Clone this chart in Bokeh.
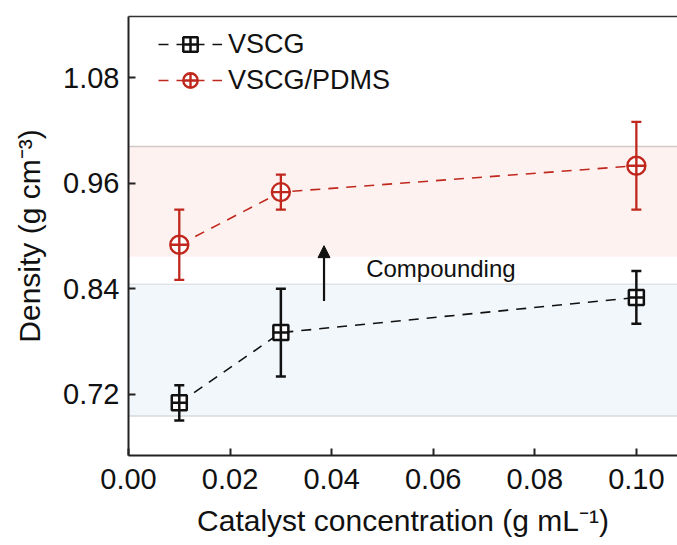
from bokeh.plotting import figure
from bokeh.models import (Range1d, FixedTicker, PrintfTickFormatter, Whisker, TeeHead,
                          ColumnDataSource, BoxAnnotation, Span, LinearAxis, Label,
                          Arrow, NormalHead, Legend, LegendItem)
from bokeh.embed import file_html
from bokeh.resources import INLINE

# ---- data ----
conc = [0.01, 0.03, 0.10]
vscg = [0.71, 0.79, 0.83]
vscg_err = [0.02, 0.05, 0.03]
pdms = [0.89, 0.95, 0.98]
pdms_err = [0.04, 0.02, 0.05]
x_ticks = [0.00, 0.02, 0.04, 0.06, 0.08, 0.10]
y_ticks = [0.72, 0.84, 0.96, 1.08]
pink_band = (0.8765, 1.002)
blue_band = (0.695, 0.845)

RED = "#c0271d"
BLACK = "#111111"
FONT = "Liberation Sans"

p = figure(width=677, height=545, output_backend="svg", toolbar_location=None,
           x_range=Range1d(0, 0.1081), y_range=Range1d(0.65, 1.15),
           min_border_left=128, min_border_right=0, min_border_top=16, min_border_bottom=90)
p.outline_line_color = None
p.grid.visible = False
p.background_fill_color = "white"

# bands
p.add_layout(BoxAnnotation(bottom=pink_band[0], top=pink_band[1], fill_color="#fef2f0",
                           fill_alpha=1, line_color=None, level="underlay"))
p.add_layout(BoxAnnotation(bottom=blue_band[0], top=blue_band[1], fill_color="#f2f7fb",
                           fill_alpha=1, line_color=None, level="underlay"))
for yv, c in [(pink_band[1], "#cfc9c8"), (blue_band[1], "#dfe3e6"), (blue_band[0], "#d6d9dc")]:
    p.add_layout(Span(location=yv, dimension="width", line_color=c, line_width=1.5, level="underlay"))

# sources
src_v = ColumnDataSource(dict(x=conc, y=vscg,
                              upper=[a + b for a, b in zip(vscg, vscg_err)],
                              lower=[a - b for a, b in zip(vscg, vscg_err)]))
src_p = ColumnDataSource(dict(x=conc, y=pdms,
                              upper=[a + b for a, b in zip(pdms, pdms_err)],
                              lower=[a - b for a, b in zip(pdms, pdms_err)]))

for src, col, lw in [(src_v, BLACK, 2.5), (src_p, RED, 2.3)]:
    p.add_layout(Whisker(source=src, base="x", upper="upper", lower="lower",
                         line_color=col, line_width=lw, level="underlay",
                         upper_head=TeeHead(size=10, line_color=col, line_width=lw),
                         lower_head=TeeHead(size=10, line_color=col, line_width=lw)))

l1 = p.line("x", "y", source=src_v, line_color=BLACK, line_width=1.6, line_dash="10 8")
m1 = p.scatter("x", "y", source=src_v, marker="square_cross", size=15, line_color=BLACK,
               fill_color="white", line_width=2.5)
l2 = p.line("x", "y", source=src_p, line_color=RED, line_width=1.6, line_dash="10 8")
m2 = p.scatter("x", "y", source=src_p, marker="circle_cross", size=18, line_color=RED,
               fill_color="white", line_width=2.4)

legend = Legend(items=[LegendItem(label="VSCG", renderers=[l1, m1]),
                       LegendItem(label="VSCG/PDMS", renderers=[l2, m2])],
                location=(30, 357), orientation="vertical")
legend.label_text_font = FONT
legend.label_text_font_size = "27px"
legend.label_text_color = "#111111"
legend.glyph_width = 64
legend.glyph_height = 36
legend.label_height = 36
legend.label_standoff = 6
legend.spacing = 0
legend.padding = 0
legend.margin = 0
legend.border_line_color = None
legend.background_fill_alpha = 0
p.add_layout(legend)

# arrow & label
p.add_layout(Arrow(end=NormalHead(size=12, fill_color=BLACK, line_color=BLACK),
                   x_start=0.0385, y_start=0.826, x_end=0.0385, y_end=0.889,
                   line_color=BLACK, line_width=2.2))
p.add_layout(Label(x=0.0468, y=0.8625, text="Compounding", text_font=FONT,
                   text_font_size="24px", text_baseline="middle", text_color="#111111"))

# axes
for ax, ticks in [(p.xaxis[0], x_ticks), (p.yaxis[0], y_ticks)]:
    ax.ticker = FixedTicker(ticks=ticks)
    ax.formatter = PrintfTickFormatter(format="%.2f")
    ax.minor_tick_line_color = None
    ax.major_tick_in = 7
    ax.major_tick_out = 0
    ax.major_tick_line_width = 2
    ax.major_tick_line_color = "#222222"
    ax.axis_line_width = 2
    ax.axis_line_color = "#222222"
    ax.major_label_text_font = FONT
    ax.major_label_text_font_size = "29px"
    ax.major_label_text_color = "#111111"
    ax.axis_label_text_font = FONT
    ax.axis_label_text_font_size = "30px"
    ax.axis_label_text_font_style = "normal"
    ax.axis_label_text_color = "#111111"

p.xaxis.axis_label = "Catalyst concentration (g mL\u207b\u00b9)"
p.yaxis.axis_label = "Density (g cm\u207b\u00b3)"
p.xaxis.major_label_standoff = 13
p.xaxis.axis_label_standoff = 12
p.yaxis.major_label_standoff = 9
p.yaxis.axis_label_standoff = 14

top = LinearAxis(major_tick_line_color=None, minor_tick_line_color=None,
                 major_label_text_font_size="0px", axis_line_width=1.5,
                 axis_line_color="#333333", ticker=FixedTicker(ticks=[]))
p.add_layout(top, "above")

open("out.html", "w").write(file_html(p, INLINE))
